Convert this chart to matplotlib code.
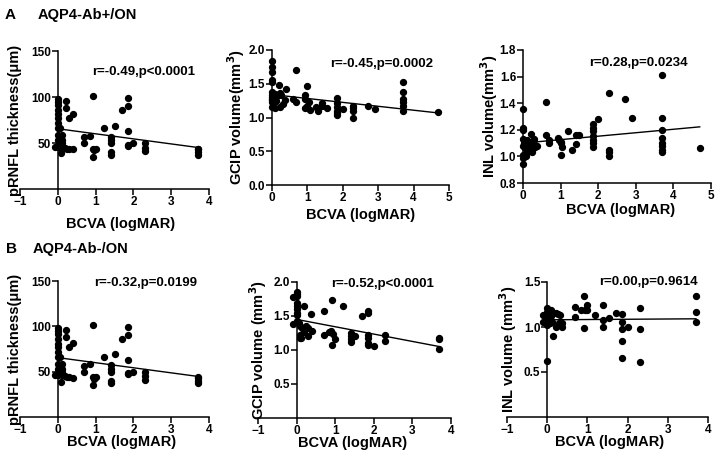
import matplotlib
matplotlib.use("Agg")
import matplotlib.pyplot as plt
from matplotlib.ticker import FormatStrFormatter
import numpy as np

plt.rcParams['font.family'] = ['Liberation Sans', 'DejaVu Sans']
plt.rcParams['font.weight'] = 'bold'

# pRNFL (same points in A and B)
rnfl_x = [0, 0, 0, 0, 0, 0, 0, 0, 0, 0, 0, 0, -0.08, 0.05,
          0.1, 0.1, 0.1, 0.08, 0.1, 0.22, 0.22, 0.3, 0.4, 0.2, 0.25, 0.3, 0.4,
          0.7, 0.7, 0.85, 0.93, 0.93, 1.0, 0.95, 0.93, 1.23, 1.52,
          1.4, 1.4, 1.4, 1.4, 1.4, 1.7, 1.85, 1.85, 1.85, 1.85, 1.85,
          2.0, 2.3, 2.3, 2.3, 3.7, 3.7, 3.7, 3.7]
rnfl_y = [98, 95, 91, 86, 81, 77, 72, 66, 59, 53, 48, 46, 46, 66,
          59, 53, 50, 39, 46, 96, 88, 77, 82, 45, 44, 44, 43,
          56, 50, 58, 101, 44, 44, 42, 35, 66, 69,
          57, 53, 50, 40, 37, 86, 99, 90, 63, 48, 47,
          50, 50, 45, 41, 44, 43, 40, 37]

# A: AQP4-Ab+ GCIP
gcip_pos_x = [0, 0, 0, 0, 0, 0, 0, 0, 0, 0, 0, 0,
              0.05, 0.05, 0.08, 0.1, 0.08, 0.12,
              0.2, 0.23, 0.18, 0.25, 0.4, 0.38, 0.23, 0.3,
              0.58, 0.68, 0.68, 0.93, 0.93, 0.93, 1.0, 1.0, 1.05, 1.08,
              1.24, 1.31, 1.4, 1.42, 1.54,
              1.85, 1.85, 1.85, 1.85, 1.85, 1.85, 2.0,
              2.3, 2.3, 2.3, 2.3, 2.7, 2.9,
              3.7, 3.7, 3.7, 3.7, 3.7, 3.7, 4.7]
gcip_pos_y = [1.84, 1.75, 1.68, 1.56, 1.52, 1.38, 1.33, 1.31, 1.28, 1.26, 1.23, 1.15,
              1.30, 1.27, 1.35, 1.30, 1.14, 1.25,
              1.48, 1.36, 1.34, 1.33, 1.42, 1.26, 1.15, 1.20,
              1.27, 1.70, 1.23, 1.33, 1.28, 1.14, 1.46, 1.17, 1.23, 1.11,
              1.16, 1.09, 1.22, 1.17, 1.14,
              1.29, 1.21, 1.16, 1.10, 1.06, 1.03, 1.13,
              1.17, 1.14, 1.09, 1.00, 1.17, 1.13,
              1.53, 1.38, 1.28, 1.23, 1.17, 1.10, 1.08]

# A: AQP4-Ab+ INL
inl_pos_x = [0, 0, 0, 0, 0, 0, 0, 0,
             0.03, 0.05, 0.08, 0.1, 0.1, 0.12,
             0.2, 0.22, 0.25, 0.28, 0.3, 0.33, 0.38, 0.25,
             0.6, 0.6, 0.7, 0.7, 0.92, 0.95, 1.0, 1.0, 1.05, 1.02,
             1.2, 1.3, 1.4, 1.4, 1.5,
             1.85, 1.85, 1.85, 1.85, 1.85, 1.85, 1.85, 2.0,
             2.3, 2.3, 2.3, 2.3, 2.7, 2.9,
             3.7, 3.7, 3.7, 3.7, 3.7, 3.7, 3.7, 3.7, 4.7]
inl_pos_y = [1.36, 1.21, 1.20, 1.13, 1.08, 1.01, 0.99, 0.94,
             1.10, 1.06, 1.00, 1.12, 1.03, 1.08,
             1.17, 1.11, 1.05, 1.13, 1.09, 1.07, 1.08, 1.03,
             1.41, 1.16, 1.12, 1.10, 1.14, 1.12, 1.10, 1.01, 1.07, 1.11,
             1.19, 1.05, 1.16, 1.09, 1.16,
             1.24, 1.21, 1.19, 1.15, 1.12, 1.10, 1.07, 1.28,
             1.48, 1.05, 1.03, 1.00, 1.43, 1.29,
             1.61, 1.29, 1.20, 1.14, 1.10, 1.08, 1.05, 1.03, 1.06]

# B: AQP4-Ab- GCIP
gcip_neg_x = [0, 0, 0, 0, 0, 0, 0, 0, 0, -0.1, -0.1,
              0.05, 0.08, 0.1, 0.08, 0.12, 0.15,
              0.2, 0.2, 0.25, 0.3, 0.3, 0.38, 0.4, 0.7, 0.7,
              0.85, 0.9, 0.92, 0.95, 0.93, 1.0, 1.2,
              1.4, 1.4, 1.4, 1.4, 1.5,
              1.7, 1.85, 1.85, 1.85, 1.85, 1.85, 1.85, 2.0,
              2.3, 2.3, 3.7, 3.7, 3.7]
gcip_neg_y = [1.86, 1.82, 1.79, 1.69, 1.65, 1.61, 1.54, 1.51, 1.42, 1.78, 1.38,
              1.40, 1.36, 1.22, 1.18, 1.17, 1.33,
              1.64, 1.26, 1.35, 1.33, 1.20, 1.53, 1.28, 1.57, 1.22,
              1.26, 1.28, 1.74, 1.23, 1.08, 1.16, 1.64,
              1.25, 1.20, 1.16, 1.12, 1.20,
              1.50, 1.58, 1.55, 1.22, 1.18, 1.11, 1.08, 1.06,
              1.22, 1.13, 1.18, 1.16, 1.01]

# B: AQP4-Ab- INL
inl_neg_x = [0, 0.15, 0, 0, 0, 0, 0, 0, -0.1, -0.1,
             0.1, 0.1, 0.12, 0.08, 0.22, 0.28, 0.32, 0.22, 0.3, 0.38, 0.38,
             0.7, 0.7, 0.85, 0.93, 1.0, 0.92, 1.0, 0.92,
             1.2, 1.4, 1.4, 1.4, 1.53,
             1.7, 1.85, 1.85, 1.85, 1.85, 1.85, 2.0,
             2.3, 2.3, 2.3, 3.7, 3.7, 3.7]
inl_neg_y = [0.62, 0.90, 1.21, 1.17, 1.13, 1.10, 1.06, 1.02, 1.13, 1.06,
             1.19, 1.12, 1.06, 1.04, 1.16, 1.15, 1.13, 1.00, 1.04, 1.04, 1.00,
             1.22, 1.11, 1.19, 1.19, 1.19, 1.34, 1.25, 0.99,
             1.13, 1.24, 1.08, 1.00, 1.10,
             1.16, 1.15, 1.06, 0.98, 0.85, 0.66, 1.00,
             1.21, 0.98, 0.61, 1.35, 1.17, 1.06]

# regression lines: (intercept, slope, x end)
fits = [(65.5, -5.5, 3.7), (1.34, -0.058, 4.7), (1.10, 0.026, 4.7),
        (65.5, -5.6, 3.7), (1.45, -0.108, 3.7), (1.08, 0.003, 3.7)]
stats = ['r=-0.49,p<0.0001', 'r=-0.45,p=0.0002', 'r=0.28,p=0.0234',
         'r=-0.32,p=0.0199', 'r=-0.52,p<0.0001', 'r=0.00,p=0.9614']

W, H = 717, 455
fig = plt.figure(figsize=(W / 100, H / 100), dpi=100)

def box(x0, x1, y0, y1):
    return [x0 / W, 1 - y1 / H, (x1 - x0) / W, (y1 - y0) / H]

panels = [
    dict(rect=box(20, 209, 51, 189), x=rnfl_x, y=rnfl_y, xlim=(-1, 4), ylim=(0, 150),
         yt=[50, 100, 150], fmt='%d', yl='pRNFL thickness(\u03bcm)', ylx=0.01,
         xlx=0.53, xly=-0.20, tx=0.38, ty=0.85),
    dict(rect=box(272, 449, 50, 185), x=gcip_pos_x, y=gcip_pos_y, xlim=(0, 5), ylim=(0, 2),
         yt=[0, 0.5, 1.0, 1.5, 2.0], fmt='%.1f', yl='GCIP volume(mm$^3$)', ylx=-0.14,
         xlx=0.50, xly=-0.17, tx=0.33, ty=0.90),
    dict(rect=box(523, 711, 50, 183), x=inl_pos_x, y=inl_pos_y, xlim=(0, 5), ylim=(0.8, 1.8),
         yt=[0.8, 1.0, 1.2, 1.4, 1.6, 1.8], fmt='%.1f', yl='INL volume(mm$^3$)', ylx=-0.125,
         xlx=0.52, xly=-0.15, tx=0.35, ty=0.90),
    dict(rect=box(20, 209, 281, 417), x=rnfl_x, y=rnfl_y, xlim=(-1, 4), ylim=(0, 150),
         yt=[50, 100, 150], fmt='%d', yl='pRNFL thickness(\u03bcm)', ylx=0.01,
         xlx=0.54, xly=-0.13, tx=0.39, ty=0.985),
    dict(rect=box(258, 451, 282, 418), x=gcip_neg_x, y=gcip_neg_y, xlim=(-1, 4), ylim=(0, 2),
         yt=[0.5, 1.0, 1.5, 2.0], fmt='%.1f', yl='GCIP volume (mm$^3$)', ylx=0.057,
         xlx=0.49, xly=-0.13, tx=0.38, ty=0.985),
    dict(rect=box(507, 708, 282, 417), x=inl_neg_x, y=inl_neg_y, xlim=(-1, 4), ylim=(0, 1.5),
         yt=[0.5, 1.0, 1.5], fmt='%.1f', yl='INL volume (mm$^3$)', ylx=0.06,
         xlx=0.51, xly=-0.13, tx=0.46, ty=1.0),
]

for i, p in enumerate(panels):
    ax = fig.add_axes(p['rect'])
    ax.scatter(p['x'], p['y'], s=18, color='black', zorder=3, clip_on=False)
    b0, b1, xe = fits[i]
    lx = np.array([0, xe])
    ax.plot(lx, b0 + b1 * lx, color='black', lw=1)
    ax.set_xlim(*p['xlim'])
    ax.set_ylim(*p['ylim'])
    ax.set_xticks(np.arange(p['xlim'][0], p['xlim'][1] + 1))
    ax.set_yticks(p['yt'])
    ax.yaxis.set_major_formatter(FormatStrFormatter(p['fmt']))
    ax.spines['top'].set_visible(False)
    ax.spines['right'].set_visible(False)
    ax.spines['left'].set_position(('data', 0))
    for s in ['left', 'bottom']:
        ax.spines[s].set_linewidth(1.1)
    ax.tick_params(direction='out', length=4, width=1.1, labelsize=8.5, pad=1)
    for lab in ax.get_xticklabels() + ax.get_yticklabels():
        lab.set_fontweight('bold')
    ax.set_xlabel('BCVA (logMAR)', fontsize=10.5, fontweight='bold')
    ax.set_ylabel(p['yl'], fontsize=10.5, fontweight='bold')
    ax.xaxis.set_label_coords(p['xlx'], p['xly'])
    ax.yaxis.set_label_coords(p['ylx'], 0.5)
    ax.text(p['tx'], p['ty'], stats[i], transform=ax.transAxes, fontsize=9.5,
            fontweight='bold', va='center', ha='left')
    ax.patch.set_alpha(0)

fig.text(5 / W, 1 - 15 / H, 'A', fontsize=11, fontweight='bold', va='center')
fig.text(38 / W, 1 - 15 / H, 'AQP4-Ab+/ON', fontsize=10.5, fontweight='bold', va='center')
fig.text(6 / W, 1 - 249 / H, 'B', fontsize=11, fontweight='bold', va='center')
fig.text(33 / W, 1 - 249 / H, 'AQP4-Ab-/ON', fontsize=10.5, fontweight='bold', va='center')

fig.savefig('out.png', dpi=100)
